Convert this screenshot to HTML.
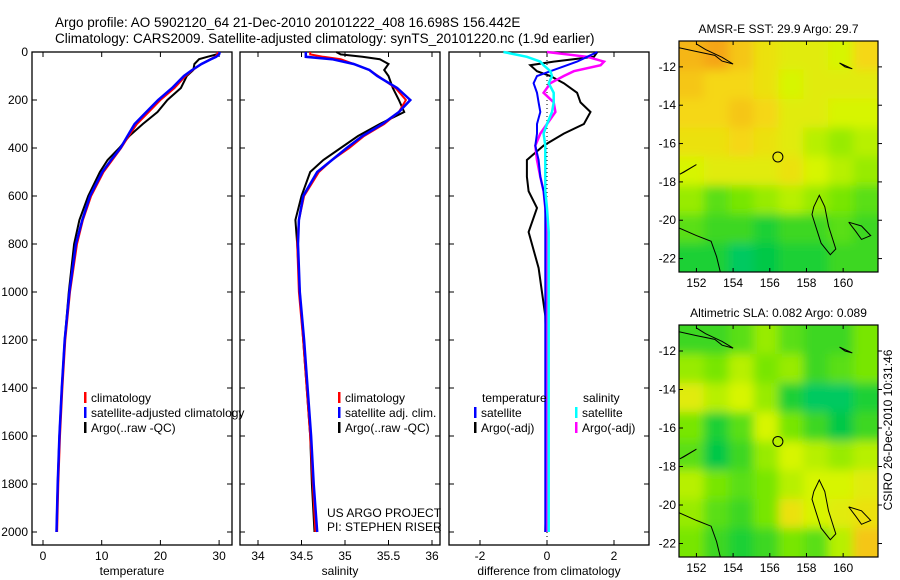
<!DOCTYPE html>
<html><head><meta charset="utf-8">
<style>
body{margin:0;background:#fff;}
svg{display:block;font-family:"Liberation Sans",sans-serif;}
</style></head>
<body>
<svg id="fig" width="900" height="580" viewBox="0 0 900 580">
<text x="55" y="27" font-size="13.5">Argo profile: AO 5902120_64 21-Dec-2010 20101222_408 16.698S 156.442E</text>
<text x="55" y="43" font-size="13.5">Climatology: CARS2009. Satellite-adjusted climatology: synTS_20101220.nc (1.9d earlier)</text>
<g id="plots"></g>
<text transform="translate(892,430) rotate(-90)" text-anchor="middle" font-size="12">CSIRO 26-Dec-2010 10:31:46</text>
</svg>
<script>
// ---- profile data ----
const depths=[0,10,20,30,50,75,100,150,200,250,300,350,400,450,500,600,700,800,1000,1200,1400,1600,1800,2000];
const tClim=[29.8,29.7,29.3,28.5,27.0,25.5,24.3,22.4,20.0,18.0,16.0,14.6,13.3,11.8,10.3,8.2,6.8,5.8,4.6,3.8,3.3,2.9,2.6,2.4];
const tSat=[30.1,30.0,29.5,28.6,27.0,25.4,24.0,22.0,19.6,17.6,15.6,14.4,13.2,11.6,10.1,8.0,6.7,5.6,4.5,3.7,3.2,2.8,2.5,2.3];
const tArgo=[30.0,29.6,28.0,26.6,25.8,25.6,24.5,23.5,21.2,19.5,17.0,14.7,13.0,11.0,9.7,7.7,6.2,5.3,4.4,3.7,3.2,2.8,2.5,2.3];
const sClim=[34.6,34.6,34.75,34.95,35.1,35.28,35.38,35.58,35.70,35.62,35.45,35.22,35.05,34.85,34.70,34.53,34.47,34.45,34.47,34.52,34.56,34.6,34.63,34.66];
const sSat=[34.55,34.55,34.55,34.85,35.1,35.28,35.37,35.6,35.75,35.62,35.43,35.2,35.02,34.85,34.68,34.52,34.47,34.46,34.48,34.53,34.57,34.61,34.64,34.68];
const sArgo=[34.9,34.95,35.2,35.4,35.5,35.45,35.5,35.55,35.62,35.68,35.4,35.15,34.95,34.75,34.6,34.5,34.43,34.45,34.48,34.52,34.56,34.6,34.62,34.65];
const dDepth=[0,20,40,55,80,100,130,170,210,250,300,340,390,450,520,580,650,750,900,1100,1400,1700,2000];
const dTArgo=[1.5,1.4,0.2,-0.5,-0.3,0.1,0.5,0.9,1.0,1.3,1.1,0.5,-0.1,-0.6,-0.6,-0.55,-0.3,-0.55,-0.25,-0.05,0,0,-0.05];
const dTSat=[1.5,1.2,0.9,0.6,0.1,-0.3,-0.4,-0.3,-0.25,-0.2,-0.3,-0.3,-0.35,-0.25,-0.2,-0.1,-0.05,-0.05,-0.05,-0.05,-0.05,-0.05,-0.05];
const dSSat=[-1.3,-0.6,-0.2,-0.1,0.1,0.15,0.05,0.2,0.2,0.15,0,-0.1,-0.05,-0.05,-0.05,-0.05,0,0.05,0.05,0.05,0.05,0.05,0.05];
const dSArgo=[0,1.2,1.7,1.6,0.8,0.5,0.1,-0.1,0.2,0.25,0.0,-0.2,-0.35,-0.3,-0.2,-0.1,-0.05,0,0,0,0,0,0];
const depthTicks=[0,200,400,600,800,1000,1200,1400,1600,1800,2000];
const tTicks=[0,10,20,30];
const sTicks=[34,34.5,35,35.5,36];
const dTicks=[-2,0,2];
// ---- map data (0=cool green, 1=warm orange) ----
const sstGrid=[
[0.8,0.85,0.75,0.65,0.6,0.6,0.55,0.7],
[0.75,0.7,0.7,0.65,0.55,0.6,0.6,0.6],
[0.7,0.7,0.75,0.7,0.6,0.6,0.55,0.55],
[0.65,0.65,0.7,0.65,0.6,0.5,0.45,0.5],
[0.55,0.6,0.6,0.6,0.65,0.55,0.5,0.45],
[0.45,0.35,0.4,0.45,0.5,0.45,0.4,0.35],
[0.35,0.3,0.3,0.25,0.3,0.3,0.35,0.3],
[0.25,0.25,0.15,0.2,0.25,0.25,0.3,0.3]];
const slaGrid=[
[0.3,0.3,0.35,0.45,0.35,0.3,0.3,0.4],
[0.45,0.4,0.5,0.4,0.45,0.3,0.35,0.4],
[0.6,0.5,0.55,0.45,0.25,0.15,0.15,0.25],
[0.4,0.25,0.35,0.55,0.4,0.3,0.2,0.3],
[0.35,0.2,0.3,0.45,0.55,0.5,0.45,0.5],
[0.5,0.4,0.35,0.4,0.5,0.55,0.55,0.6],
[0.45,0.35,0.3,0.4,0.65,0.55,0.6,0.65],
[0.4,0.3,0.25,0.3,0.4,0.35,0.5,0.75]];
const lonTicks=[152,154,156,158,160];
const latTicks=[-12,-14,-16,-18,-20,-22];
const argoLon=156.442, argoLat=-16.698;

const NS='http://www.w3.org/2000/svg';
const root=document.getElementById('plots');
function mk(tag,attrs,parent){const e=document.createElementNS(NS,tag);for(const k in attrs)e.setAttribute(k,attrs[k]);(parent||root).appendChild(e);return e;}
function txt(x,y,s,size,anchor,parent){const t=mk('text',{x:x,y:y,'font-size':size,'text-anchor':anchor||'start'},parent);t.textContent=s;return t;}

const Y=d=>52+d*0.24;
const PT=52,PB=545;
function panel(x0,x1,xs,ticks,fmt,label,name,showY){
  const g=mk('g',{});
  
  
  mk('rect',{x:x0,y:PT,width:x1-x0,height:PB-PT,fill:'none',stroke:'#000','stroke-width':1.3},g);
  ticks.forEach(v=>{const x=xs(v);
    mk('line',{x1:x,x2:x,y1:PB,y2:PB-5,stroke:'#000'},g);
    mk('line',{x1:x,x2:x,y1:PT,y2:PT+5,stroke:'#000'},g);
    const t=txt(x,560,fmt(v),12,'middle',g);
    
    
  });
  depthTicks.forEach(d=>{
    mk('line',{x1:x0,x2:x0+5,y1:Y(d),y2:Y(d),stroke:'#000'},g);
    mk('line',{x1:x1,x2:x1-5,y1:Y(d),y2:Y(d),stroke:'#000'},g);
    if(showY){const t=txt(x0-4,Y(d)+4,String(d),12,'end',g);
      
      }
  });
  const l=txt((x0+x1)/2,575,label,12,'middle',g);
  
  
  return g;
}
function line(g,xs,vals,dep,color,w,name){
  const pts=vals.map((v,i)=>xs(v).toFixed(1)+','+Y(dep[i]).toFixed(1)).join(' ');
  const p=mk('polyline',{points:pts,fill:'none',stroke:color,'stroke-width':w},g);
  
  
}
function legend(g,x,y,color,label){
  mk('rect',{x:x,y:y-10,width:2.5,height:11,fill:color},g);
  const t=txt(x+7,y,label,12,'start',g);
  
  
}
// temperature panel
const xT=v=>43+v*5.87;
const g1=panel(32,232,xT,tTicks,String,'temperature','temperature-panel',true);
line(g1,xT,tArgo,depths,'#000',2,'argo-temperature-line');
line(g1,xT,tClim,depths,'#f00',2,'climatology-temperature-line');
line(g1,xT,tSat,depths,'#00f',2.5,'satellite-temperature-line');
legend(g1,84,402,'#f00','climatology');
legend(g1,84,417,'#00f','satellite-adjusted climatology');
legend(g1,84,432,'#000','Argo(..raw -QC)');
// salinity panel
const xS=v=>258+(v-34)*87;
const g2=panel(240,440,xS,sTicks,String,'salinity','salinity-panel',false);
line(g2,xS,sArgo,depths,'#000',2,'argo-salinity-line');
line(g2,xS,sClim,depths,'#f00',2,'climatology-salinity-line');
line(g2,xS,sSat,depths,'#00f',2.5,'satellite-salinity-line');
legend(g2,338,402,'#f00','climatology');
legend(g2,338,417,'#00f','satellite adj. clim.');
legend(g2,338,432,'#000','Argo(..raw -QC)');
const u1=txt(327,517,'US ARGO PROJECT',12,'start',g2);
const u2=txt(327,531,'PI: STEPHEN RISER',12,'start',g2);
// difference panel
const xD=v=>547+v*33.5;
const g3=panel(449,649,xD,dTicks,String,'difference from climatology','difference-panel',false);
mk('line',{x1:xD(0),x2:xD(0),y1:PT,y2:PB,stroke:'#000','stroke-dasharray':'1,3'},g3);
line(g3,xD,dTArgo,dDepth,'#000',2,'argo-temp-diff-line');
line(g3,xD,dSArgo,dDepth,'#f0f',2.5,'argo-sal-diff-line');
line(g3,xD,dTSat,dDepth,'#00f',2,'satellite-temp-diff-line');
line(g3,xD,dSSat,dDepth,'#0ff',2.5,'satellite-sal-diff-line');
const th=txt(482,402,'temperature',12,'start',g3);
const sh=txt(583,402,'salinity',12,'start',g3);
legend(g3,474,417,'#00f','satellite');
legend(g3,474,432,'#000','Argo(-adj)');
legend(g3,575,417,'#0ff','satellite');
legend(g3,575,432,'#f0f','Argo(-adj)');

// ---- maps ----
const stops=[[0,[0,205,175]],[0.2,[0,200,70]],[0.4,[120,230,0]],[0.55,[215,245,0]],[0.7,[245,215,20]],[0.85,[245,165,20]],[1,[230,120,20]]];
function cmap(v){for(let i=1;i<stops.length;i++){if(v<=stops[i][0]){const a=stops[i-1],b=stops[i];const f=(v-a[0])/(b[0]-a[0]);return 'rgb('+a[1].map((c,k)=>Math.round(c+(b[1][k]-c)*f)).join(',')+')';}}return 'rgb(230,120,20)';}
const LON0=151.05,LON1=161.9,LAT0=-10.65,LAT1=-22.7;
const coasts=[
[[151.05,-11.0],[152,-11.2],[153,-11.4],[153.4,-11.7],[154,-11.85],[153.4,-11.5],[152.5,-11.1],[152,-10.8]],
[[158.4,-19.3],[158.7,-18.7],[159.0,-19.3],[159.2,-20.3],[159.6,-21.5],[159.3,-21.8],[158.8,-21.2],[158.5,-20.3],[158.3,-19.7],[158.4,-19.3]],
[[151.05,-20.4],[152,-20.8],[152.8,-21.1],[153.1,-21.9],[153.3,-22.7]],
[[160.3,-20.1],[161,-20.3],[161.5,-20.8],[161.0,-21.0],[160.7,-20.6],[160.3,-20.1]],
[[151.1,-17.6],[152,-17.1],[151.3,-17.5],[151.1,-17.6]],
[[159.8,-11.8],[160.5,-12.1],[160.1,-12.0],[159.8,-11.8]]];
function drawMap(top,bot,grid,title,name){
  const x0=679,x1=878;
  const mx=lon=>x0+(lon-LON0)/(LON1-LON0)*(x1-x0);
  const my=lat=>top+(lat-LAT0)/(LAT1-LAT0)*(bot-top);
  const g=mk('g',{});
  
  
  const id='clip'+top;
  const cp=mk('clipPath',{id:id},g);mk('rect',{x:x0,y:top,width:x1-x0,height:bot-top},cp);
  const fid='blur'+top;
  const f=mk('filter',{id:fid,x:'-10%',y:'-10%',width:'120%',height:'120%'},g);mk('feGaussianBlur',{stdDeviation:5},f);
  const inner=mk('g',{'clip-path':'url(#'+id+')'},g);
  const bg=mk('g',{filter:'url(#'+fid+')'},inner);
  const rows=grid.length,cols=grid[0].length;
  const cw=(x1-x0)/cols,ch=(bot-top)/rows;
  grid.forEach((row,r)=>row.forEach((v,c)=>{
    const cell=mk('rect',{x:x0+c*cw-(c==0?12:0),y:top+r*ch-(r==0?12:0),width:cw+1+(c==0||c==cols-1?12:0),height:ch+1+(r==0||r==rows-1?12:0),fill:cmap(v)},bg);
    
    
  }));
  coasts.forEach(cs=>{const p=mk('polyline',{points:cs.map(q=>mx(q[0]).toFixed(1)+','+my(q[1]).toFixed(1)).join(' '),fill:'none',stroke:'#000','stroke-width':1},inner);
    });
  const m=mk('circle',{cx:mx(argoLon),cy:my(argoLat),r:5,fill:'none',stroke:'#000','stroke-width':1},g);
  
  mk('rect',{x:x0,y:top,width:x1-x0,height:bot-top,fill:'none',stroke:'#000','stroke-width':1.2},g);
  lonTicks.forEach(l=>{const x=mx(l);mk('line',{x1:x,x2:x,y1:bot,y2:bot-4,stroke:'#000'},g);mk('line',{x1:x,x2:x,y1:top,y2:top+4,stroke:'#000'},g);
    const t=txt(x,bot+15,String(l),12,'middle',g);});
  latTicks.forEach(l=>{const y=my(l);mk('line',{x1:x0,x2:x0+4,y1:y,y2:y,stroke:'#000'},g);mk('line',{x1:x1,x2:x1+4,y1:y,y2:y,stroke:'#000'},g);
    const t=txt(x0-3,y+4,String(l),12,'end',g);});
  const tt=txt((x0+x1)/2,top-8,title,12,'middle',g);
}
drawMap(41,272,sstGrid,'AMSR-E SST: 29.9 Argo: 29.7','sst-map');
drawMap(325,557,slaGrid,'Altimetric SLA: 0.082 Argo: 0.089','sla-map');
</script>
</body></html>
